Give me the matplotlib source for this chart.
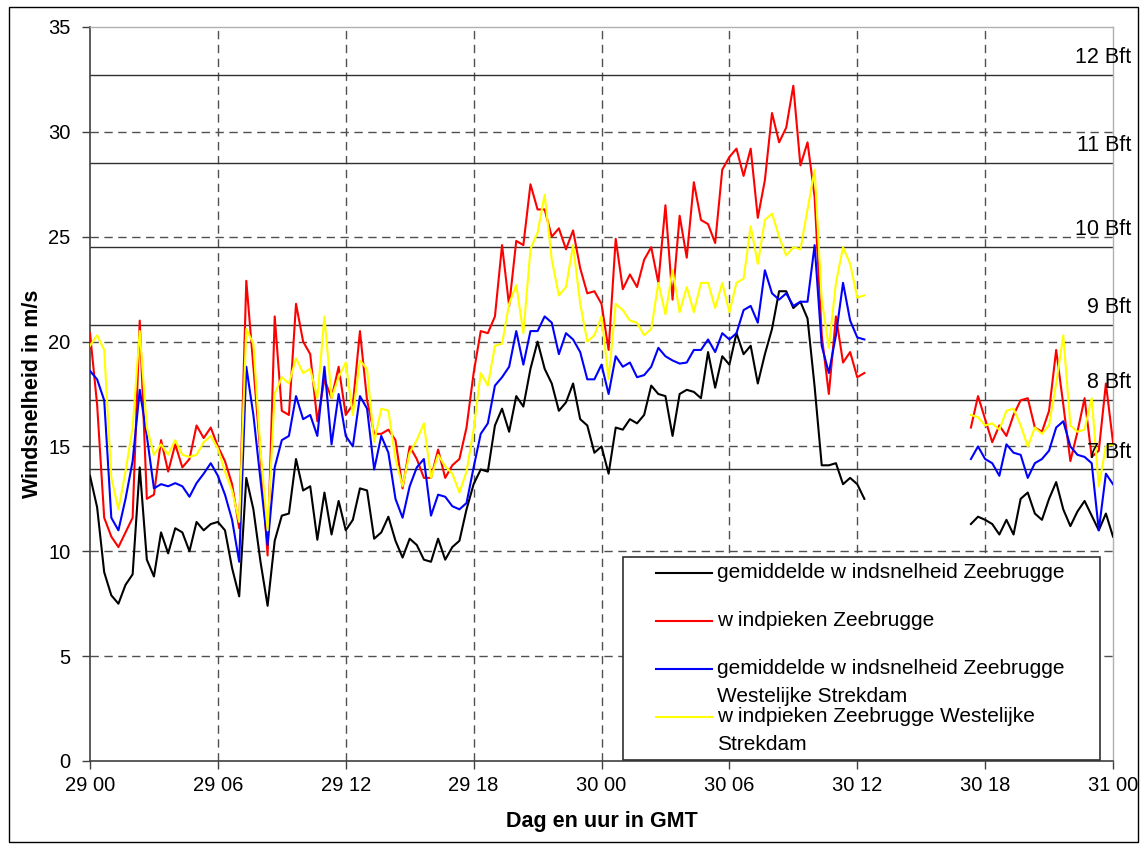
import numpy as np
import matplotlib
matplotlib.use("Agg")
import matplotlib.pyplot as plt
from matplotlib.patches import Rectangle
from matplotlib.lines import Line2D

plt.rcParams['font.family'] = ['Liberation Sans', 'DejaVu Sans']

# ---------------- data ----------------
step_h = 1 / 3            # 20-minute samples (hours)
seg1_start = 0.0          # 29 00
seg2_start = 41 + 1 / 3   # 30 17:20

black1 = [13.6, 12.1, 9.0, 7.9, 7.5, 8.4, 8.9, 14.0, 9.6, 8.8, 10.9, 9.9, 11.1, 10.9, 10.0, 11.4, 11.0, 11.3,
          11.4, 11.0, 9.2, 7.85, 13.5, 12.0, 9.5, 7.4, 10.5, 11.7, 11.8, 14.4, 12.9, 13.1, 10.55, 12.8, 10.8, 12.4,
          11.0, 11.5, 13.0, 12.9, 10.6, 10.9, 11.65, 10.5, 9.7, 10.6, 10.3, 9.6, 9.5, 10.6, 9.6, 10.2, 10.5, 12.0,
          13.2, 13.9, 13.8, 16.0, 16.8, 15.7, 17.4, 16.9, 18.7, 20.0, 18.7, 18.0, 16.7, 17.1, 18.0, 16.3, 16.0, 14.7,
          15.0, 13.7, 15.9, 15.8, 16.3, 16.1, 16.5, 17.9, 17.5, 17.4, 15.5, 17.5, 17.7, 17.6, 17.3, 19.5, 17.8, 19.3,
          18.9, 20.4, 19.4, 19.8, 18.0, 19.4, 20.6, 22.4, 22.4, 21.6, 21.9, 21.1, 17.85, 14.1, 14.1, 14.2, 13.2, 13.5,
          13.2, 12.5]
black2 = [11.3, 11.65, 11.5, 11.3, 10.8, 11.5, 10.8, 12.5, 12.8, 11.8, 11.5, 12.5, 13.3, 12.0, 11.2, 11.9, 12.4,
          11.7, 11.0, 11.8, 10.7]

red1 = [20.4, 17.0, 11.6, 10.7, 10.2, 10.9, 11.6, 21.0, 12.5, 12.7, 15.3, 13.8, 15.1, 14.0, 14.4, 16.0, 15.4, 15.9,
        15.0, 14.3, 13.2, 11.1, 22.9, 18.8, 14.6, 9.8, 21.2, 16.7, 16.5, 21.8, 20.0, 19.4, 16.2, 18.2, 17.3, 18.8,
        16.5, 17.0, 20.5, 17.2, 15.6, 15.6, 15.8, 15.3, 13.0, 15.0, 14.4, 13.5, 13.5, 14.85, 13.5, 14.1, 14.4, 15.9,
        18.5, 20.5, 20.4, 21.2, 24.6, 21.7, 24.8, 24.6, 27.5, 26.3, 26.3, 25.0, 25.4, 24.4, 25.3, 23.5, 22.3, 22.4,
        21.8, 19.6, 24.9, 22.5, 23.2, 22.6, 23.9, 24.5, 22.8, 26.5, 22.0, 26.0, 24.0, 27.6, 25.8, 25.6, 24.7, 28.2,
        28.8, 29.2, 27.9, 29.2, 25.9, 27.7, 30.9, 29.5, 30.2, 32.2, 28.4, 29.5, 26.9, 20.3, 17.5, 21.2, 19.0, 19.5,
        18.3, 18.5]
red2 = [15.9, 17.4, 16.3, 15.2, 16.0, 15.5, 16.5, 17.2, 17.3, 15.9, 15.7, 16.7, 19.6, 17.0, 14.3, 15.7, 17.3,
        14.5, 14.8, 18.0, 15.2]

blue1 = [18.6, 18.2, 17.2, 11.6, 11.0, 12.5, 14.3, 17.7, 15.5, 13.0, 13.2, 13.1, 13.25, 13.1, 12.6, 13.25, 13.7, 14.2,
         13.6, 12.7, 11.5, 9.5, 18.8, 16.5, 13.4, 10.3, 14.0, 15.3, 15.5, 17.4, 16.3, 16.5, 15.5, 18.8, 15.1, 17.5,
         15.5, 15.0, 17.4, 16.8, 13.9, 15.5, 14.7, 12.5, 11.6, 13.1, 14.0, 14.4, 11.7, 12.7, 12.6, 12.15, 12.0, 12.3,
         14.0, 15.6, 16.1, 17.9, 18.3, 18.8, 20.5, 18.9, 20.5, 20.5, 21.2, 20.9, 19.4, 20.4, 20.1, 19.5, 18.2, 18.2,
         18.9, 17.5, 19.3, 18.8, 19.0, 18.3, 18.4, 18.8, 19.7, 19.3, 19.1, 18.95, 19.0, 19.6, 19.6, 20.1, 19.5, 20.4,
         20.1, 20.4, 21.5, 21.7, 20.9, 23.4, 22.3, 22.0, 22.3, 21.7, 21.9, 21.9, 24.6, 19.8, 18.5, 20.3, 22.8, 21.0,
         20.2, 20.1]
blue2 = [14.4, 15.0, 14.4, 14.2, 13.6, 15.1, 14.7, 14.6, 13.5, 14.2, 14.4, 14.8, 15.9, 16.2, 15.0, 14.6, 14.5,
         14.2, 11.0, 13.7, 13.2]

yellow1 = [19.8, 20.3, 19.6, 13.5, 12.0, 13.8, 15.9, 20.5, 15.9, 14.6, 15.1, 14.6, 15.3, 14.6, 14.5, 14.6, 15.2, 15.5,
           14.9, 13.8, 12.9, 11.4, 20.6, 19.9, 14.8, 11.0, 17.5, 18.3, 18.0, 19.2, 18.5, 18.7, 17.3, 21.2, 17.3, 18.3,
           19.0, 16.5, 19.1, 18.7, 15.2, 16.8, 16.7, 14.4, 13.1, 14.7, 15.3, 16.1, 13.5, 14.6, 14.05, 13.7, 12.8, 13.8,
           15.8, 18.5, 17.9, 19.8, 19.9, 21.8, 22.7, 20.4, 24.4, 25.2, 27.0, 23.9, 22.2, 22.6, 24.6, 21.8, 20.0, 20.3,
           21.2, 18.2, 21.8, 21.5, 21.0, 20.9, 20.3, 20.6, 22.8, 21.3, 23.4, 21.4, 22.6, 21.4, 22.8, 22.8, 21.6, 22.8,
           21.4, 22.8, 23.0, 25.5, 23.7, 25.8, 26.1, 25.0, 24.1, 24.5, 24.4, 26.3, 28.2, 22.0, 19.7, 22.8, 24.5, 23.7,
           22.1, 22.2]
yellow2 = [16.5, 16.4, 16.0, 16.1, 15.8, 16.7, 16.8, 16.0, 15.0, 15.9, 15.6, 16.0, 18.0, 20.3, 16.0, 15.7, 15.8,
           17.3, 13.1, 15.0, 15.1]

series_labels = ["gemiddelde w indsnelheid Zeebrugge",
                 "w indpieken Zeebrugge",
                 "gemiddelde w indsnelheid Zeebrugge\nWestelijke Strekdam",
                 "w indpieken Zeebrugge Westelijke\nStrekdam"]
series_colors = ["#000000", "#FF0000", "#0000FF", "#FFFF00"]

bft_levels = [13.9, 17.2, 20.8, 24.5, 28.5, 32.7]
bft_labels = ["7 Bft", "8 Bft", "9 Bft", "10 Bft", "11 Bft", "12 Bft"]

xtick_hours = [0, 6, 12, 18, 24, 30, 36, 42, 48]
xtick_labels = ["29 00", "29 06", "29 12", "29 18", "30 00", "30 06", "30 12", "30 18", "31 00"]
ytick_values = [0, 5, 10, 15, 20, 25, 30, 35]

# ---------------- figure ----------------
W, H = 1144, 848
fig = plt.figure(figsize=(W / 100, H / 100), dpi=100)
fig.patch.set_facecolor("white")

def fx(px):
    return px / W

def fy(py):
    return 1 - py / H

L, R, T, B = 90, 1113, 27, 761
ax = fig.add_axes([fx(L), fy(B), fx(R) - fx(L), fy(T) - fy(B)])
ax.set_xlim(0, 48)
ax.set_ylim(0, 35)

FS = 14.5
FS_BFT = 15.5
FS_LEG = 15
FS_LAB = 15.5
grid_kw = dict(color="#505050", lw=1.0, linestyle=(0, (6, 4)), zorder=1)
for yv in ytick_values[1:-1]:
    ax.axhline(yv, **grid_kw)
for xv in xtick_hours[1:-1]:
    ax.axvline(xv, **grid_kw)

for lvl in bft_levels:
    ax.axhline(lvl, color="#303030", lw=1.0, zorder=2)
for lvl, lab in zip(bft_levels, bft_labels):
    ax.annotate(lab, xy=(48, lvl), xytext=(13, 12.5), textcoords="offset points",
                ha="right", va="center", fontsize=FS_BFT, annotation_clip=False, zorder=6)

def build(v1, v2):
    t1 = seg1_start + np.arange(len(v1)) * step_h
    t2 = seg2_start + np.arange(len(v2)) * step_h
    t = np.concatenate([t1, [np.nan], t2])
    v = np.concatenate([np.array(v1, float), [np.nan], np.array(v2, float)])
    return t, v

all_series = [(black1, black2), (red1, red2), (blue1, blue2), (yellow1, yellow2)]
for (v1, v2), col in zip(all_series, series_colors):
    t, v = build(v1, v2)
    ax.plot(t, v, color=col, lw=1.5, zorder=3, solid_joinstyle="round")

ax.set_xticks(xtick_hours)
ax.set_xticklabels(xtick_labels)
ax.set_yticks(ytick_values)
ax.tick_params(axis="both", direction="out", length=6, width=1, color="#404040",
               labelsize=FS, labelcolor="black")
ax.tick_params(axis="y", pad=8)
ax.tick_params(axis="x", pad=5)

for s in ("left", "bottom"):
    ax.spines[s].set_color("#404040")
    ax.spines[s].set_linewidth(1.2)
for s in ("top", "right"):
    ax.spines[s].set_color("#b0b0b0")
    ax.spines[s].set_linewidth(1.0)

ax.set_xlabel("Dag en uur in GMT", fontsize=FS_LAB, fontweight="bold", labelpad=11)
ax.set_ylabel("Windsnelheid in m/s", fontsize=FS_LAB, fontweight="bold", labelpad=4)

# ---------------- legend (Excel style) ----------------
lg_left, lg_right, lg_top, lg_bot = 623, 1100, 557, 760
fig.patches.append(Rectangle((fx(lg_left), fy(lg_bot)), fx(lg_right) - fx(lg_left), fy(lg_top) - fy(lg_bot),
                             transform=fig.transFigure, facecolor="white", edgecolor="#303030",
                             lw=1.2, zorder=10))
row_y = [573, 621, 669, 717]
line_gap = 28
for lab, col, yy in zip(series_labels, series_colors, row_y):
    fig.add_artist(Line2D([fx(656), fx(712)], [fy(yy), fy(yy)], transform=fig.transFigure,
                          color=col, lw=1.5, zorder=11))
    for j, part in enumerate(lab.split("\n")):
        fig.text(fx(717), fy(yy + j * line_gap), part, fontsize=FS_LEG, ha="left", va="center", zorder=12)

# outer chart border
fig.patches.append(Rectangle((fx(9), fy(842)), fx(1138) - fx(9), fy(7) - fy(842),
                             transform=fig.transFigure, facecolor="none", edgecolor="black",
                             lw=1.0, zorder=0))

fig.savefig("out.png", dpi=100, facecolor="white")
